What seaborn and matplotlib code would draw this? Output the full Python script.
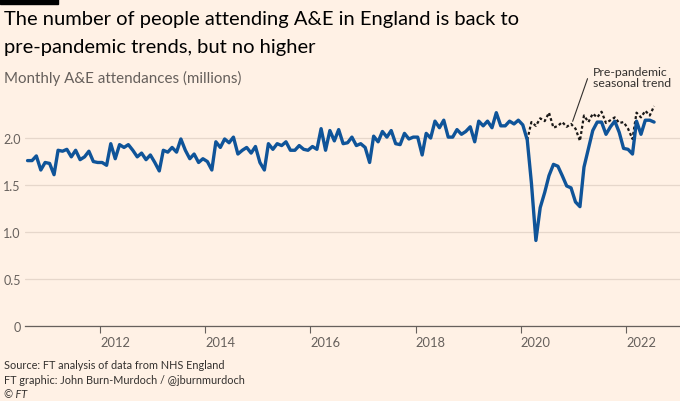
import pandas as pd
import seaborn as sns
import matplotlib
matplotlib.use('Agg')
import matplotlib.pyplot as plt

# monthly A&E attendances, millions, Aug 2010 - Jul 2022
attendances = [
    1.76, 1.76, 1.81, 1.66, 1.74, 1.73, 1.61, 1.87, 1.86, 1.88, 1.80, 1.87,
    1.77, 1.80, 1.86, 1.75, 1.74, 1.74, 1.71, 1.94, 1.78, 1.93, 1.90, 1.93,
    1.87, 1.80, 1.84, 1.77, 1.82, 1.74, 1.65, 1.87, 1.85, 1.90, 1.85, 1.99,
    1.87, 1.78, 1.83, 1.74, 1.78, 1.75, 1.66, 1.96, 1.90, 1.99, 1.95, 2.01,
    1.83, 1.87, 1.90, 1.84, 1.91, 1.74, 1.66, 1.94, 1.88, 1.94, 1.92, 1.96,
    1.87, 1.87, 1.92, 1.88, 1.87, 1.91, 1.88, 2.10, 1.87, 2.08, 1.97, 2.09,
    1.94, 1.95, 2.01, 1.92, 1.94, 1.90, 1.74, 2.02, 1.96, 2.07, 2.01, 2.08,
    1.94, 1.93, 2.05, 1.99, 2.01, 2.01, 1.82, 2.05, 2.00, 2.18, 2.11, 2.19,
    2.01, 2.01, 2.09, 2.04, 2.07, 2.12, 1.96, 2.18, 2.13, 2.18, 2.11, 2.27,
    2.13, 2.13, 2.18, 2.15, 2.19, 2.14, 1.98, 1.52, 0.91, 1.26, 1.42, 1.60,
    1.72, 1.70, 1.60, 1.49, 1.47, 1.32, 1.27, 1.69, 1.89, 2.08, 2.17, 2.17,
    2.04, 2.12, 2.18, 2.06, 1.89, 1.88, 1.83, 2.18, 2.04, 2.19, 2.19, 2.17,
]

# pre-pandemic seasonal trend, Feb 2020 - Jul 2022
trend = [
    1.98, 2.17, 2.13, 2.21, 2.18, 2.27, 2.11, 2.13, 2.17, 2.12, 2.15, 2.10,
    1.97, 2.24, 2.17, 2.26, 2.22, 2.28, 2.16, 2.19, 2.22, 2.16, 2.17, 2.10,
    1.99, 2.27, 2.22, 2.29, 2.24, 2.34,
]

months = pd.date_range("2010-08-01", periods=len(attendances), freq="MS") + pd.Timedelta(days=14)
trend_months = pd.date_range("2020-02-01", periods=len(trend), freq="MS") + pd.Timedelta(days=14)

year_ticks = [2012, 2014, 2016, 2018, 2020, 2022]
y_ticks = [0, 0.5, 1.0, 1.5, 2.0]
y_labels = ["0", "0.5", "1.0", "1.5", "2.0"]

actual = pd.DataFrame({"month": months, "value": attendances})
seasonal = pd.DataFrame({"month": trend_months, "value": trend})

sns.set_theme(style="white")
plt.rcParams['font.family'] = ['Lato', 'DejaVu Sans']

bg = "#FFF1E5"
grey = "#66605C"

fig = plt.figure(figsize=(6.8, 4.02), dpi=100, facecolor=bg)
ax = fig.add_axes([0.0365, 0.1866, 0.9635, 0.561])
ax.set_facecolor(bg)

sns.lineplot(data=seasonal, x="month", y="value", ax=ax, color="#1A1817",
             linestyle=(0, (1.3, 1.1)), linewidth=1.6)
sns.lineplot(data=actual, x="month", y="value", ax=ax, color="#0F5499",
             linewidth=2.4)

ax.set_ylim(0, 2.4)
ax.set_xlim(pd.Timestamp("2010-07-27"), pd.Timestamp("2023-01-11"))
ax.set_yticks(y_ticks)
ax.set_yticklabels(y_labels)
ax.set_xticks([pd.Timestamp(f"{y}-01-01") for y in year_ticks])
ax.set_xticklabels([str(y) for y in year_ticks])
for lab in ax.get_xticklabels():
    lab.set_ha("left")

ax.set_xlabel("")
ax.set_ylabel("")
ax.grid(axis="y", color="#E6D7CB", linewidth=0.9)
ax.set_axisbelow(True)
for s in ["top", "right", "left"]:
    ax.spines[s].set_visible(False)
ax.spines["bottom"].set_color(grey)
ax.spines["bottom"].set_linewidth(0.9)
ax.tick_params(axis="y", length=0, pad=3, labelsize=9, labelcolor=grey)
ax.tick_params(axis="x", bottom=True, direction="out", length=5, width=0.8,
               color=grey, pad=2, labelsize=9.3, labelcolor=grey)

# annotation for the dotted line
fig.text(593 / 680, 1 - 78 / 402, "Pre-pandemic\nseasonal trend", fontsize=8.8,
         color="#33302E", ha="left", va="center", linespacing=1.1)
ax.annotate("", xy=(pd.Timestamp("2020-12-20"), 2.15),
            xytext=(pd.Timestamp("2021-04-15"), 2.66),
            arrowprops=dict(arrowstyle="-", color="#33302E", lw=0.8),
            annotation_clip=False)

# header and footer
fig.patches.append(plt.Rectangle((0, 1 - 5 / 402), 58 / 680, 5 / 402,
                                 transform=fig.transFigure, color="black"))
fig.text(4 / 680, 1 - 20 / 402, "The number of people attending A&E in England is back to",
         fontsize=14.5, color="#000000", va="center")
fig.text(4 / 680, 1 - 47 / 402, "pre-pandemic trends, but no higher",
         fontsize=14.5, color="#000000", va="center")
fig.text(4 / 680, 1 - 78 / 402, "Monthly A&E attendances (millions)",
         fontsize=10.9, color=grey, va="center")
fig.text(4 / 680, 1 - 366 / 402, "Source: FT analysis of data from NHS England",
         fontsize=7.8, color="#33302E", va="center")
fig.text(4 / 680, 1 - 381 / 402, "FT graphic: John Burn-Murdoch / @jburnmurdoch",
         fontsize=7.8, color="#33302E", va="center")
fig.text(4 / 680, 1 - 395 / 402, "© FT", fontsize=7.8, color="#33302E",
         va="center", style="italic")

plt.savefig("out.png", dpi=100, facecolor=bg)
